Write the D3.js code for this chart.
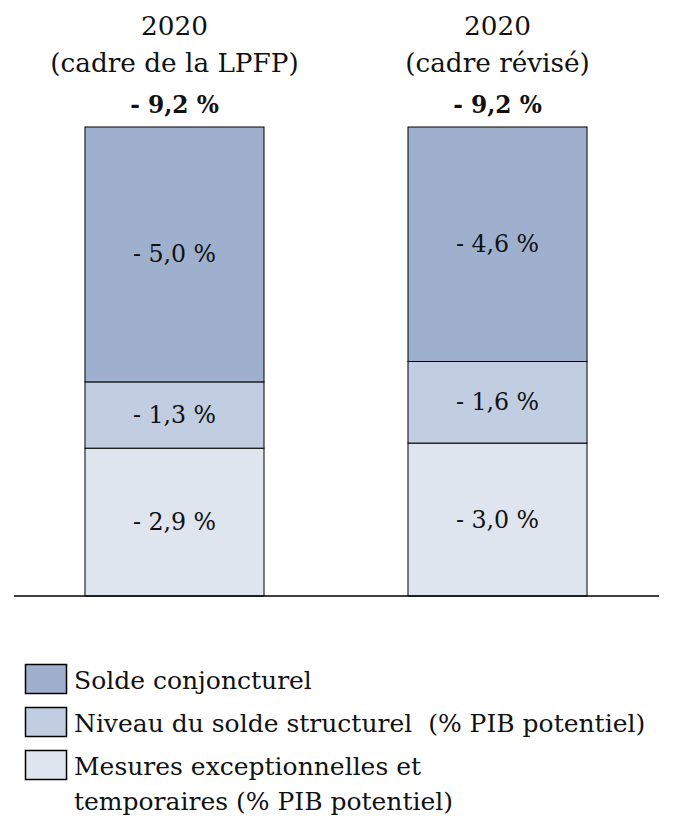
<!DOCTYPE html>
<html><head><meta charset="utf-8">
<script src="https://cdn.jsdelivr.net/npm/d3@7"></script>
<style>body{margin:0;background:#fff}svg{display:block}</style>
</head><body><svg id="c" width="673" height="836"></svg>
<script>
const categories = ["2020|(cadre de la LPFP)", "2020|(cadre révisé)"];
const seriesNames = ["Mesures exceptionnelles et temporaires (% PIB potentiel)", "Niveau du solde structurel  (% PIB potentiel)", "Solde conjoncturel"];
const mesures = [2.9, 3.0];
const structurel = [1.3, 1.6];
const conjoncturel = [5.0, 4.6];
const totals = [9.2, 9.2];
const colors = ["#dfe5ef", "#c1cde0", "#9eb0ce"];
const FONT = "'DejaVu Serif', 'Liberation Serif', serif";

const svg = d3.select("#c");
const x = d3.scaleBand().domain(categories).range([13, 659]).paddingInner(0.4458).paddingOuter(0.2229);
const y = d3.scaleLinear().domain([0, 9.2]).range([596, 127]);
const fmt = v => "- " + d3.format(".1f")(v).replace(".", ",") + " %";

const rows = categories.map((c, i) => ({cat: c, m: mesures[i], s: structurel[i], k: conjoncturel[i]}));
const stack = d3.stack().keys(["m", "s", "k"])(rows);

function txt(sel) { return sel.attr("font-family", FONT).attr("fill", "#111"); }

stack.forEach((layer, li) => {
  const g = svg.append("g");
  g.selectAll("rect").data(layer).join("rect")
    .attr("x", d => x(d.data.cat)).attr("width", x.bandwidth())
    .attr("y", d => y(d[1])).attr("height", d => y(d[0]) - y(d[1]))
    .attr("fill", colors[li]).attr("stroke", "#000").attr("stroke-width", 1);
  g.selectAll("text").data(layer).join("text").call(txt)
    .attr("x", d => x(d.data.cat) + x.bandwidth() / 2)
    .attr("y", d => (y(d[0]) + y(d[1])) / 2 + 8)
    .attr("text-anchor", "middle").attr("font-size", 23.7)
    .text(d => fmt(d[1] - d[0]));
});

svg.append("line").attr("x1", 14).attr("x2", 659).attr("y1", y(0)).attr("y2", y(0))
  .attr("stroke", "#000").attr("stroke-width", 1.5);

categories.forEach((c, i) => {
  const cx = x(c) + x.bandwidth() / 2;
  const [l1, l2] = c.split("|");
  txt(svg.append("text")).attr("x", cx).attr("y", 35).attr("text-anchor", "middle").attr("font-size", 26.3).text(l1);
  txt(svg.append("text")).attr("x", cx).attr("y", 72).attr("text-anchor", "middle").attr("font-size", 26.3).text(l2);
  txt(svg.append("text")).attr("x", cx).attr("y", 113).attr("text-anchor", "middle").attr("font-size", 23.3).attr("font-weight", "bold").text(fmt(totals[i]));
});

const legend = [
  {color: colors[2], y: 664, lines: ["Solde conjoncturel"]},
  {color: colors[1], y: 707, lines: ["Niveau du solde structurel  (% PIB potentiel)"]},
  {color: colors[0], y: 750, lines: ["Mesures exceptionnelles et", "temporaires (% PIB potentiel)"]}
];
legend.forEach(d => {
  svg.append("rect").attr("x", 25.5).attr("y", d.y + 0.5).attr("width", 41).attr("height", 29)
    .attr("fill", d.color).attr("stroke", "#000").attr("stroke-width", 1.5);
  d.lines.forEach((t, j) => {
    txt(svg.append("text")).attr("x", 74).attr("y", d.y + 25 + j * 35).attr("font-size", 25)
      .attr("xml:space", "preserve").style("white-space", "pre").text(t);
  });
});
</script></body></html>
